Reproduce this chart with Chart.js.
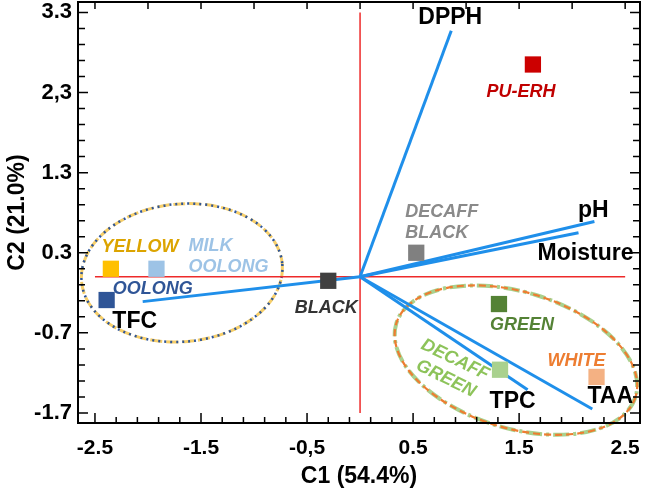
<!DOCTYPE html>
<html>
<head>
<meta charset="utf-8">
<script src="https://cdn.jsdelivr.net/npm/chart.js@4.4.1/dist/chart.umd.min.js"></script>
<style>
  html, body { margin: 0; padding: 0; background: #fff; }
  #wrap { width: 650px; height: 488px; }
</style>
</head>
<body>
<div id="wrap"><canvas id="biplot" width="650" height="488"></canvas></div>
<script>
// Sample scores (C1, C2)
const sampleNames = ['PU-ERH', 'DECAFF BLACK', 'BLACK', 'YELLOW', 'MILK OOLONG', 'OOLONG', 'GREEN', 'DECAFF GREEN', 'WHITE'];
const sampleC1 = [1.63, 0.53, -0.30, -2.35, -1.92, -2.39, 1.31, 1.32, 2.23];
const sampleC2 = [2.65, 0.30, -0.05, 0.10, 0.10, -0.29, -0.34, -1.16, -1.25];

// Variable loadings (C1, C2)
const varNames = ['DPPH', 'pH', 'Moisture', 'TFC', 'TPC', 'TAA'];
const varC1 = [0.86, 2.21, 2.06, -2.05, 1.58, 2.19];
const varC2 = [3.07, 0.69, 0.55, -0.31, -1.41, -1.65];

// Group ellipses: centre, half axes (x units / y units), tilt in degrees
const groupCx = [-1.68, 1.47];
const groupCy = [0.05, -1.04];
const groupRx = [0.95, 1.18];
const groupRy = [0.86, 0.85];
const groupTilt = [-5, 17];

// Axis ticks
const xTickValues = [-2.5, -1.5, -0.5, 0.5, 1.5, 2.5];
const xTickLabels = ['-2.5', '-1.5', '-0,5', '0.5', '1.5', '2.5'];
const yTickValues = [3.3, 2.3, 1.3, 0.3, -0.7, -1.7];
const yTickLabels = ['3.3', '2,3', '1.3', '0.3', '-0.7', '-1.7'];

// ---- styles ----
const FONT = "'Liberation Sans', Arial, sans-serif";
const sampleColors = ['#cc0000', '#808080', '#404040', '#ffc000', '#9dc3e6', '#2f5597', '#548235', '#a9d18e', '#f4b183'];
const sampleTextColors = ['#c00000', '#8a8a8a', '#333333', '#dca400', '#9dc3e6', '#2f5597', '#548235', '#8dc35a', '#ed7d31'];
// label lines, offset from the point in px, alignment, rotation
const sampleLabels = [
  { lines: ['PU-ERH'], dx: -12, dy: 28, align: 'center' },
  { lines: ['DECAFF', 'BLACK'], dx: -11, dy: -41, align: 'left' },
  { lines: ['BLACK'], dx: -2, dy: 27, align: 'center' },
  { lines: ['YELLOW'], dx: 29, dy: -22, align: 'center' },
  { lines: ['MILK', 'OOLONG'], dx: 32, dy: -23, align: 'left' },
  { lines: ['OOLONG'], dx: 6, dy: -11, align: 'left' },
  { lines: ['GREEN'], dx: 23, dy: 21, align: 'center' },
  { lines: ['DECAFF', 'GREEN'], dx: -45, dy: -10, align: 'center', rot: 26 },
  { lines: ['WHITE'], dx: -20, dy: -16, align: 'center' }
];
const varLabels = [
  { dx: -1, dy: -13 }, { dx: -1, dy: -11 }, { dx: 7, dy: 21 },
  { dx: -8, dy: 20 }, { dx: -15, dy: 12 }, { dx: 18, dy: -12 }
];
const groupStrokes = [
  [{ color: '#f7cf6a', width: 3, dash: [12, 4] }, { color: '#2f5597', width: 2.5, dash: [2, 4] }],
  [{ color: '#a9d18e', width: 4, dash: [16, 4, 3, 4] }, { color: '#ed7d31', width: 2.2, dash: [7, 4] }]
];

const datasets = [];
sampleNames.forEach((name, i) => {
  datasets.push({
    label: name,
    data: [{ x: sampleC1[i], y: sampleC2[i] }],
    pointStyle: 'rect',
    pointRadius: 11.5,
    backgroundColor: sampleColors[i],
    borderWidth: 0,
    order: 0
  });
});
varNames.forEach((name, i) => {
  datasets.push({
    label: name,
    data: [{ x: 0, y: 0 }, { x: varC1[i], y: varC2[i] }],
    showLine: true,
    borderColor: '#1f8fea',
    borderWidth: 3,
    pointRadius: 0,
    order: 1
  });
});
// red reference axes through the origin
datasets.push({
  label: 'v0', data: [{ x: 0, y: yTickValues[0] }, { x: 0, y: yTickValues[5] }],
  showLine: true, borderColor: '#ee2a2a', borderWidth: 1.5, pointRadius: 0, order: 2
});
datasets.push({
  label: 'h0', data: [{ x: xTickValues[0], y: 0 }, { x: xTickValues[5], y: 0 }],
  showLine: true, borderColor: '#ee2a2a', borderWidth: 1.5, pointRadius: 0, order: 2
});

const ellipsePlugin = {
  id: 'groupEllipses',
  beforeDatasetsDraw(chart) {
    const { ctx, scales: { x, y } } = chart;
    groupCx.forEach((cx, i) => {
      const px = x.getPixelForValue(cx);
      const py = y.getPixelForValue(groupCy[i]);
      const rx = x.getPixelForValue(cx + groupRx[i]) - px;
      const ry = py - y.getPixelForValue(groupCy[i] + groupRy[i]);
      groupStrokes[i].forEach(st => {
        ctx.save();
        ctx.beginPath();
        ctx.ellipse(px, py, rx, ry, groupTilt[i] * Math.PI / 180, 0, Math.PI * 2);
        ctx.setLineDash(st.dash);
        ctx.lineWidth = st.width;
        ctx.strokeStyle = st.color;
        ctx.stroke();
        ctx.restore();
      });
    });
  }
};

const labelPlugin = {
  id: 'pointLabels',
  afterDatasetsDraw(chart) {
    const { ctx, scales: { x, y } } = chart;
    ctx.save();
    ctx.textBaseline = 'middle';
    // sample labels
    ctx.font = 'italic bold 18px ' + FONT;
    sampleLabels.forEach((lab, i) => {
      const px = x.getPixelForValue(sampleC1[i]) + lab.dx;
      const py = y.getPixelForValue(sampleC2[i]) + lab.dy;
      ctx.fillStyle = sampleTextColors[i];
      ctx.textAlign = lab.align;
      ctx.save();
      ctx.translate(px, py);
      if (lab.rot) ctx.rotate(lab.rot * Math.PI / 180);
      lab.lines.forEach((t, k) => ctx.fillText(t, 0, k * 21));
      ctx.restore();
    });
    // variable labels
    ctx.font = 'bold 23px ' + FONT;
    ctx.fillStyle = '#000';
    ctx.textAlign = 'center';
    varNames.forEach((name, i) => {
      const px = x.getPixelForValue(varC1[i]) + varLabels[i].dx;
      const py = y.getPixelForValue(varC2[i]) + varLabels[i].dy;
      ctx.fillText(name, px, py);
    });
    ctx.restore();
  }
};

// frame with inward tick marks
const framePlugin = {
  id: 'frame',
  afterDraw(chart) {
    const { ctx, chartArea: a, scales: { x, y } } = chart;
    ctx.save();
    ctx.strokeStyle = '#000';
    ctx.lineWidth = 2;
    ctx.strokeRect(a.left, a.top, a.right - a.left, a.bottom - a.top);
    ctx.lineWidth = 1.5;
    ctx.beginPath();
    for (let k = 0; k <= 25; k++) {
      const v = -2.5 + k * 0.2;
      const px = x.getPixelForValue(v);
      const len = (k % 5 === 0) ? 10 : 6;
      ctx.moveTo(px, a.bottom); ctx.lineTo(px, a.bottom - len);
    }
    for (let k = 0; k <= 10; k++) {
      const px = x.getPixelForValue(-2.5 + k * 0.5);
      ctx.moveTo(px, a.top); ctx.lineTo(px, a.top + 7);
    }
    for (let k = 0; k <= 25; k++) {
      const py = y.getPixelForValue(-1.7 + k * 0.2);
      const len = (k % 5 === 0) ? 10 : 7;
      ctx.moveTo(a.left, py); ctx.lineTo(a.left + len, py);
      ctx.moveTo(a.right, py); ctx.lineTo(a.right - len, py);
    }
    ctx.stroke();
    ctx.restore();
  }
};

new Chart(document.getElementById('biplot'), {
  type: 'scatter',
  data: { datasets },
  options: {
    responsive: false,
    animation: false,
    devicePixelRatio: 1,
    layout: { autoPadding: false, padding: { top: 2, right: 10, left: 0, bottom: 0 } },
    plugins: { legend: { display: false }, tooltip: { enabled: false } },
    scales: {
      x: {
        type: 'linear',
        min: -2.66,
        max: 2.64,
        afterBuildTicks: s => { s.ticks = xTickValues.map(v => ({ value: v })); },
        afterFit: s => { s.height = 65; s.paddingLeft = 0; s.paddingRight = 0; },
        ticks: {
          callback: (v, i) => xTickLabels[i],
          font: { family: FONT, size: 21, weight: 'bold' },
          color: '#000', padding: 13, maxRotation: 0, autoSkip: false
        },
        grid: { display: false, drawTicks: false },
        border: { display: false },
        title: {
          display: true, text: 'C1 (54.4%)', color: '#000',
          font: { family: FONT, size: 23, weight: 'bold', lineHeight: 1 },
          padding: { top: 0, bottom: 0 }
        }
      },
      y: {
        type: 'linear',
        min: -1.825,
        max: 3.43,
        afterBuildTicks: s => { s.ticks = yTickValues.map(v => ({ value: v })); },
        afterFit: s => { s.width = 78; s.paddingTop = 0; s.paddingBottom = 0; },
        ticks: {
          callback: (v, i) => yTickLabels[i],
          font: { family: FONT, size: 22, weight: 'bold' },
          color: '#000', padding: 6, autoSkip: false
        },
        grid: { display: false, drawTicks: false },
        border: { display: false },
        title: {
          display: true, text: 'C2 (21.0%)', color: '#000',
          font: { family: FONT, size: 23, weight: 'bold', lineHeight: 1 },
          padding: { top: 6, bottom: 0 }
        }
      }
    }
  },
  plugins: [ellipsePlugin, labelPlugin, framePlugin]
});
</script>
</body>
</html>
